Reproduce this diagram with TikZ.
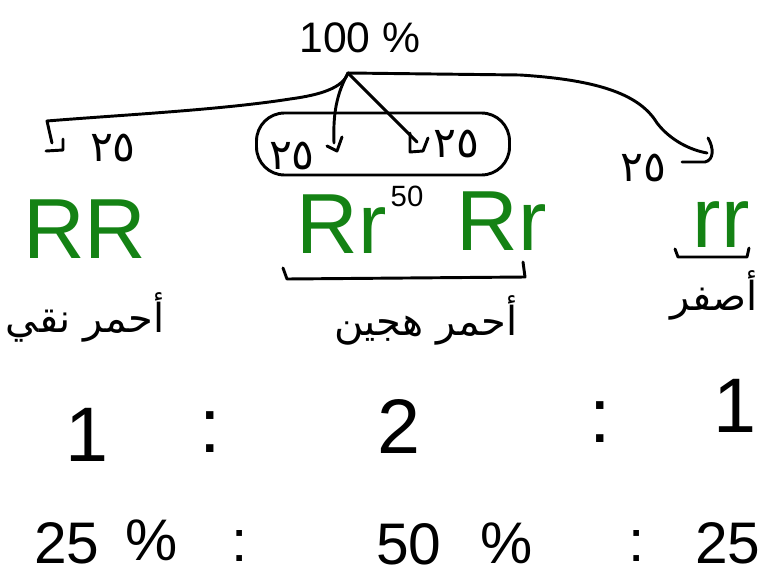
\documentclass[tikz,border=0pt]{standalone}
\usepackage{fontspec}
\setmainfont{Liberation Sans}
\newfontfamily\arabicfont[Script=Arabic]{DejaVu Sans}
\TeXXeTstate=1
\definecolor{geneGreen}{RGB}{20,130,20}
\begin{document}
\begin{tikzpicture}[x=0.75pt,y=-0.75pt,line width=2.2pt,line cap=round,line join=round,
  every node/.style={inner sep=0pt},
  gtype/.style={text=geneGreen,font=\fontsize{64}{70}\selectfont,anchor=base},
  arab/.style={font=\arabicfont\fontsize{30}{36}\selectfont,anchor=base},
  quarter/.style={font=\arabicfont\fontsize{32}{36}\selectfont},
  big/.style={font=\fontsize{58}{64}\selectfont},
  pct/.style={font=\fontsize{44}{50}\selectfont}]
\useasboundingbox (0,0) rectangle (763,578);

% top
\node[font=\fontsize{32}{38}\selectfont] (top) at (360,38) {100 \%};
\coordinate (J) at (348,73);

% branch labels
\node[quarter] (qL) at (113,148) {٢٥};
\node[quarter] (qM1) at (292,156) {٢٥};
\node[quarter] (qM2) at (456,144) {٢٥};
\node[quarter] (qR) at (643,168) {٢٥};

% oval round the two middle quarters
\node[draw,rounded corners=21pt,minimum width=253*0.75pt,minimum height=62*0.75pt] (oval) at (383,144) {};

% arrow ends
\coordinate (aL) at (52,143);
\coordinate (aM1) at (334,143);
\coordinate (aM2) at (417,142);
\coordinate (aR) at (707,153);

% connectors
\draw (J) .. controls (343,88) and (320,95) .. (290,99)
          .. controls (220,110) and (120,115) .. (47,121) -- (aL);
\draw (46,151) -- (63,150) -- (63,139);
\draw (J) .. controls (336,95) and (333,115) .. (aM1);
\draw (327,146) -- (337,151) -- (342,137);
\draw (J) -- (aM2);
\draw (410,133) -- (410,152) -- (423,151) -- (428,138);
\draw (J) -- (520,75) .. controls (600,80) and (640,95) .. (657,123)
          .. controls (670,140) and (690,150) .. (aR);
\draw (708,138) .. controls (714,148) and (714,160) .. (705,162) -- (682,162);

% 50 between the Rr
\node[font=\fontsize{22}{26}\selectfont] (fifty) at (407,196) {50};

% genotypes
\node[gtype] (RR) at (85,258) {RR};
\node[gtype] (Rr1) at (342,253) {Rr};
\node[gtype] (Rr2) at (502,250) {Rr};
\node[gtype] (rr) at (721,247) {rr};

% brackets
\draw (283,268) -- (287,279) -- (525,277) -- (523,262);
\draw (675,249) -- (678,257) -- (747,257) -- (749,248);

% phenotypes
\node[arab] (pL) at (85,332) {\beginR أحمر نقي\endR};
\node[arab] (pM) at (426,335) {\beginR أحمر هجين\endR};
\node[arab] (pR) at (714,310) {\beginR أصفر\endR};

% ratio
\node[big] (n1) at (87,435) {1};
\node[big] (c1) at (210,432) {:};
\node[big] (n2) at (399,426) {2};
\node[big] (c2) at (600,422) {:};
\node[big] (n3) at (735,406) {1};

% percentages
\node[pct] (p1) at (67,543) {25};
\node[pct] (s1) at (152,540) {\%};
\node[pct] (d1) at (240,546) {:};
\node[pct] (p2) at (409,544) {50};
\node[pct] (s2) at (507,543) {\%};
\node[pct] (d2) at (637,546) {:};
\node[pct,anchor=east] (p3) at (762,543) {25};
\end{tikzpicture}
\end{document}
